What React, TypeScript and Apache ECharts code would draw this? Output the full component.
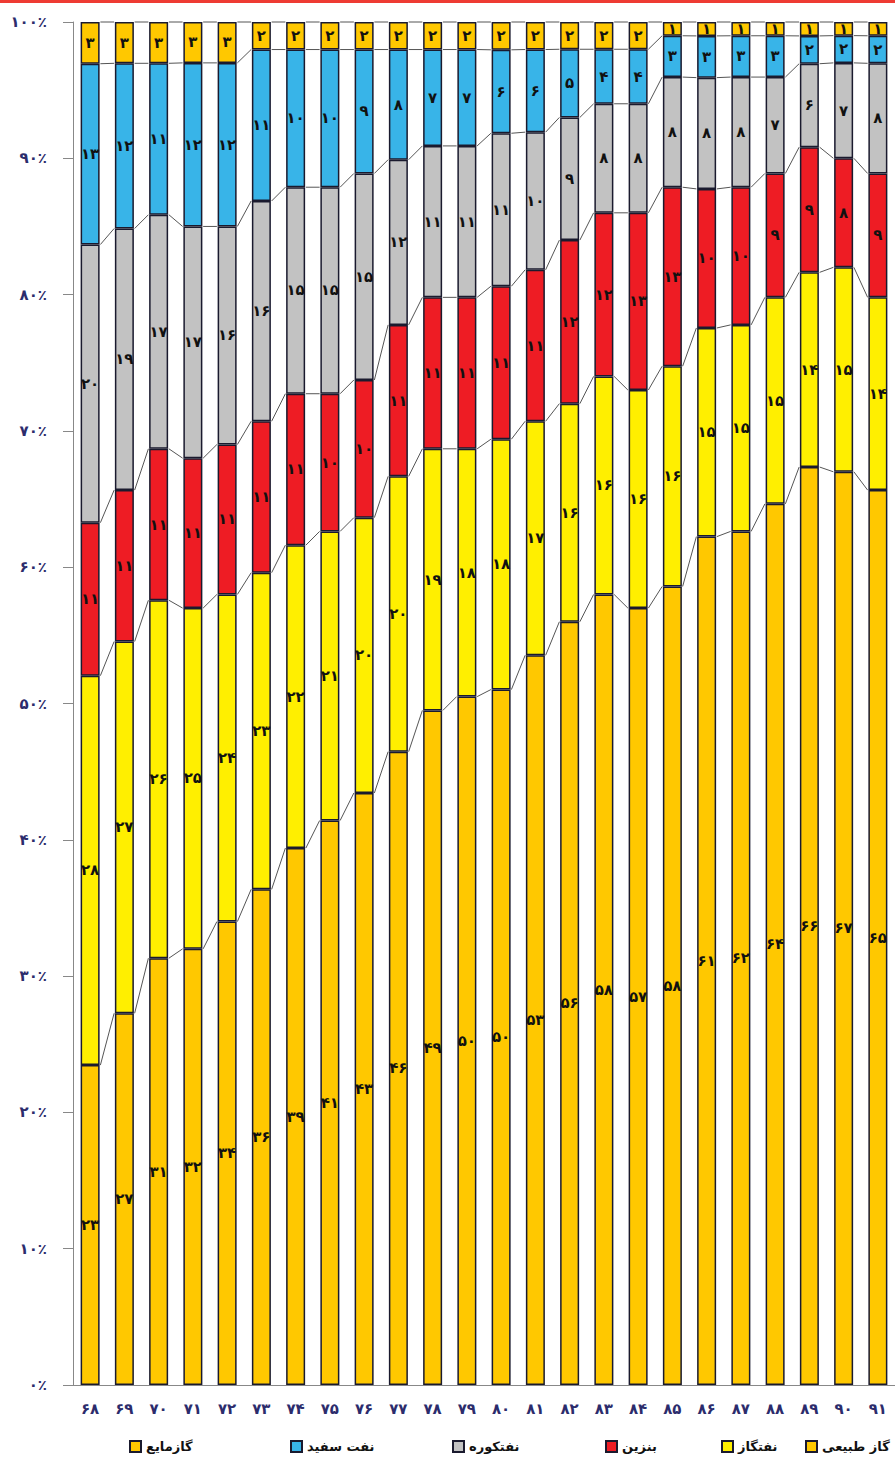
import React, { useEffect, useRef } from "react";
import * as echarts from "echarts";

const years = ["۶۸","۶۹","۷۰","۷۱","۷۲","۷۳","۷۴","۷۵","۷۶","۷۷","۷۸","۷۹","۸۰","۸۱","۸۲","۸۳","۸۴","۸۵","۸۶","۸۷","۸۸","۸۹","۹۰","۹۱"];

const seriesNames = ["گاز طبیعی", "نفتگاز", "بنزین", "نفتکوره", "نفت سفید", "گازمایع"];

const naturalGas = [23, 27, 31, 32, 34, 36, 39, 41, 43, 46, 49, 50, 50, 53, 56, 58, 57, 58, 61, 62, 64, 66, 67, 65];
const gasOil = [28, 27, 26, 25, 24, 23, 22, 21, 20, 20, 19, 18, 18, 17, 16, 16, 16, 16, 15, 15, 15, 14, 15, 14];
const gasoline = [11, 11, 11, 11, 11, 11, 11, 10, 10, 11, 11, 11, 11, 11, 12, 12, 13, 13, 10, 10, 9, 9, 8, 9];
const fuelOil = [20, 19, 17, 17, 16, 16, 15, 15, 15, 12, 11, 11, 11, 10, 9, 8, 8, 8, 8, 8, 7, 6, 7, 8];
const kerosene = [13, 12, 11, 12, 12, 11, 10, 10, 9, 8, 7, 7, 6, 6, 5, 4, 4, 3, 3, 3, 3, 2, 2, 2];
const lpg = [3, 3, 3, 3, 3, 2, 2, 2, 2, 2, 2, 2, 2, 2, 2, 2, 2, 1, 1, 1, 1, 1, 1, 1];

const yTicks = [0, 10, 20, 30, 40, 50, 60, 70, 80, 90, 100];

const colors = ["#FFC800", "#FFEF00", "#EE1C24", "#C2C2C2", "#38B4E8", "#FFC800"];

const FONT = "DejaVu Sans";

function toFa(n: number | string): string {
  const d = "۰۱۲۳۴۵۶۷۸۹";
  return String(n).replace(/[0-9]/g, (c) => d[Number(c)]);
}

export default function App() {
  const ref = useRef<HTMLDivElement>(null);

  useEffect(() => {
    if (!ref.current) return;
    const chart = echarts.init(ref.current, null, { renderer: "svg" });
    const raw = [naturalGas, gasOil, gasoline, fuelOil, kerosene, lpg];
    const totals = years.map((_, i) => raw.reduce((s, arr) => s + arr[i], 0));
    const pct = raw.map((arr) => arr.map((v, i) => (v / totals[i]) * 100));
    const cum = pct.map((_, k) =>
      years.map((_, i) => {
        let s = 0;
        for (let j = 0; j <= k; j++) s += pct[j][i];
        return s;
      })
    );
    const linkData = [];
    for (let i = 0; i < years.length - 1; i++) {
      const row = [i];
      for (let k = 0; k < cum.length; k++) {
        row.push(cum[k][i], cum[k][i + 1]);
      }
      linkData.push(row);
    }

    const barSeries = seriesNames.map((name, k) => ({
      name,
      type: "bar",
      stack: "total",
      barWidth: 19,
      itemStyle: { color: colors[k], borderColor: "#1a1a2e", borderWidth: 1.5 },
      label: {
        show: true,
        position: "inside",
        formatter: (p: any) => toFa(p.data.raw),
        color: "#111",
        fontWeight: "bold",
        fontSize: 15,
        fontFamily: FONT,
      },
      data: pct[k].map((v, i) => ({ value: v, raw: raw[k][i] })),
    }));

    const legendOrder = [...seriesNames].reverse();
    const legendLefts = [124, 285, 447, 600, 716, 800];
    const legends = legendOrder.map((name, j) => ({
      left: legendLefts[j],
      top: 1435,
      icon: "rect",
      itemWidth: 11,
      itemHeight: 11,
      itemGap: 5,
      data: [name],
      textStyle: { fontFamily: FONT, fontWeight: "bold", fontSize: 13, color: "#111" },
    }));

    const option = {
      animation: false,
      backgroundColor: "#ffffff",
      textStyle: { fontFamily: FONT },
      graphic: [
        { type: "rect", left: 0, top: 0, shape: { width: 895, height: 3 }, style: { fill: "#EE3B33" } },
      ],
      grid: { left: 73, top: 22, width: 826, height: 1363 },
      legend: legends,
      xAxis: {
        type: "category",
        data: years,
        axisLine: { show: true, lineStyle: { color: "#888", width: 1 } },
        axisTick: { show: false },
        axisLabel: {
          margin: 16,
          fontFamily: FONT,
          fontWeight: "bold",
          fontSize: 15,
          color: "#2c2c6c",
        },
      },
      yAxis: {
        type: "value",
        min: 0,
        max: 100,
        interval: 10,
        splitLine: { show: false },
        axisLine: { show: true, lineStyle: { color: "#888", width: 1 } },
        axisTick: { show: true, length: 10, lineStyle: { color: "#888" } },
        axisLabel: {
          margin: 26,
          fontFamily: FONT,
          fontWeight: "bold",
          fontSize: 15,
          color: "#2c2c6c",
          customValues: yTicks,
          formatter: (v: number) => toFa(v) + "٪",
        },
      },
      series: [
        ...barSeries,
        {
          type: "custom",
          silent: true,
          z: 1,
          data: linkData,
          renderItem: (params: any, api: any) => {
            const i = api.value(0);
            const hw = 10.25;
            const children = [];
            for (let k = 0; k < seriesNames.length; k++) {
              const a = api.coord([i, api.value(1 + 2 * k)]);
              const b = api.coord([i + 1, api.value(2 + 2 * k)]);
              children.push({
                type: "line",
                shape: { x1: a[0] + hw, y1: a[1], x2: b[0] - hw, y2: b[1] },
                style: { stroke: "#555", lineWidth: 1 },
              });
            }
            return { type: "group", children };
          },
        },
      ],
    };
    chart.setOption(option as any);
    return () => chart.dispose();
  }, []);

  return (
    <div
      ref={ref}
      style={{ position: "absolute", left: 0, top: 0, width: 895, height: 1457, background: "#fff" }}
    />
  );
}
